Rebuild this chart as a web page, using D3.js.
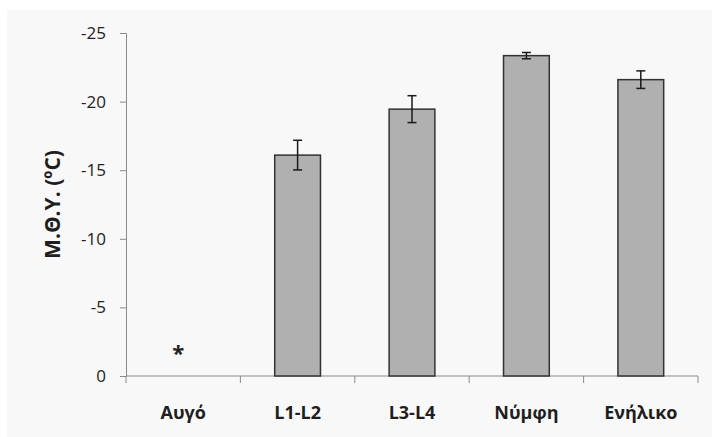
<!DOCTYPE html>
<html>
<head>
<meta charset="utf-8">
<script src="https://cdn.jsdelivr.net/npm/d3@7"></script>
<style>
  body { margin: 0; background: #fff; }
  text { font-family: "Open Sans", sans-serif; }
</style>
</head>
<body>
<svg id="chart" width="712" height="437"></svg>
<script>
const categories = ["Αυγό", "L1-L2", "L3-L4", "Νύμφη", "Ενήλικο"];
const means = [null, -16.1, -19.45, -23.35, -21.6];
const errors = [null, 1.08, 0.98, 0.23, 0.64];
const yTicks = [0, -5, -10, -15, -20, -25];
// categories with no measurable value get a star instead of a bar
const starred = ["Αυγό"];

const data = categories.map((c, i) => ({ cat: c, mean: means[i], err: errors[i] }));

const svg = d3.select("#chart");
const margin = { top: 33, right: 14, bottom: 61, left: 126 };
const width = +svg.attr("width");
const height = +svg.attr("height");

svg.append("rect")
  .attr("x", 7).attr("y", 10)
  .attr("width", width - 7).attr("height", height - 10)
  .attr("fill", "#f8f8f8");

const x = d3.scaleBand()
  .domain(categories)
  .range([margin.left, width - margin.right])
  .paddingInner(0.6)
  .paddingOuter(0.3);

const xEdge = d3.scaleLinear()
  .domain([0, categories.length])
  .range([margin.left, width - margin.right]);

const y = d3.scaleLinear()
  .domain([0, -25])
  .range([height - margin.bottom, margin.top]);

// y axis
const yAxis = svg.append("g")
  .attr("transform", `translate(${margin.left},0)`)
  .call(d3.axisLeft(y).tickValues(yTicks).tickSize(6).tickFormat(d => String(d)));
yAxis.selectAll("path, line").attr("stroke", "#8a8a8a");
yAxis.selectAll("text")
  .attr("font-size", 17)
  .attr("fill", "#222")
  .attr("x", -20);

// x axis: line plus ticks at category boundaries
const xg = svg.append("g");
xg.append("line")
  .attr("x1", margin.left).attr("x2", width - margin.right)
  .attr("y1", y(0)).attr("y2", y(0))
  .attr("stroke", "#8a8a8a");
xg.selectAll(".xt")
  .data(d3.range(categories.length + 1))
  .enter().append("line")
  .attr("x1", d => xEdge(d)).attr("x2", d => xEdge(d))
  .attr("y1", y(0)).attr("y2", y(0) + 7)
  .attr("stroke", "#8a8a8a");
xg.selectAll(".xl")
  .data(categories)
  .enter().append("text")
  .attr("x", d => x(d) + x.bandwidth() / 2)
  .attr("y", 419)
  .attr("text-anchor", "middle")
  .attr("font-size", 18)
  .attr("font-weight", "bold")
  .attr("fill", "#1e1e1e")
  .text(d => d);

const valued = data.filter(d => d.mean !== null);

svg.selectAll(".bar")
  .data(valued)
  .enter().append("rect")
  .attr("x", d => x(d.cat))
  .attr("y", d => y(d.mean))
  .attr("width", x.bandwidth())
  .attr("height", d => y(0) - y(d.mean))
  .attr("fill", "#b0b0b0")
  .attr("stroke", "#333")
  .attr("stroke-width", 1.5);

// error bars
const eb = svg.selectAll(".err")
  .data(valued)
  .enter().append("g")
  .attr("stroke", "#1a1a1a")
  .attr("stroke-width", 1.5);
eb.append("line")
  .attr("x1", d => x(d.cat) + x.bandwidth() / 2)
  .attr("x2", d => x(d.cat) + x.bandwidth() / 2)
  .attr("y1", d => y(d.mean - d.err))
  .attr("y2", d => y(d.mean + d.err));
[1, -1].forEach(s => {
  eb.append("line")
    .attr("x1", d => x(d.cat) + x.bandwidth() / 2 - 4.5)
    .attr("x2", d => x(d.cat) + x.bandwidth() / 2 + 4.5)
    .attr("y1", d => y(d.mean - s * d.err))
    .attr("y2", d => y(d.mean - s * d.err));
});

svg.selectAll(".star")
  .data(starred)
  .enter().append("text")
  .attr("x", d => x(d) + x.bandwidth() / 2 - 5)
  .attr("y", y(0) - 15)
  .attr("text-anchor", "middle")
  .attr("font-size", 22)
  .attr("font-weight", "bold")
  .attr("fill", "#222")
  .text("*");

svg.append("text")
  .attr("transform", `translate(60,${(y(0) + y(-25)) / 2}) rotate(-90)`)
  .attr("text-anchor", "middle")
  .attr("font-size", 21)
  .attr("font-weight", "bold")
  .attr("fill", "#1e1e1e")
  .text("Μ.Θ.Υ. (ºC)");
</script>
</body>
</html>
